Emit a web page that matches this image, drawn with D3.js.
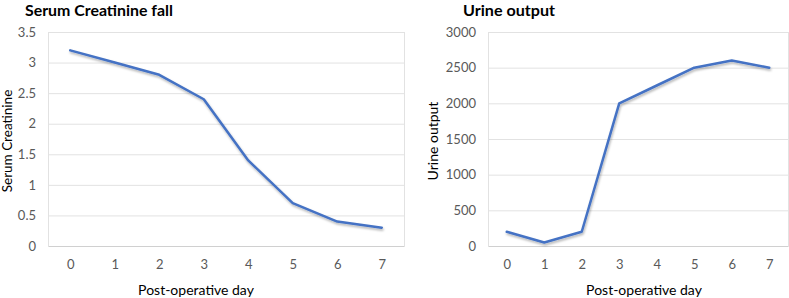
<!DOCTYPE html>
<html><head><meta charset="utf-8">
<script src="https://cdn.jsdelivr.net/npm/d3@7"></script>
<style>
html,body{margin:0;padding:0;background:#fff;}
svg{display:block;}
text{font-family:Lato,"Open Sans",sans-serif;}
</style></head>
<body>
<svg id="c" width="789" height="298"></svg>
<script>
const days = [0,1,2,3,4,5,6,7];
const creatinine = [3.2,3.0,2.8,2.4,1.4,0.7,0.4,0.3];
const urine = [200,50,200,2000,2250,2500,2600,2500];
const creatTicks = [0,0.5,1,1.5,2,2.5,3,3.5];
const urineTicks = [0,500,1000,1500,2000,2500,3000];
const titles = ["Serum Creatinine fall","Urine output"];
const yTitles = ["Serum Creatinine","Urine output"];
const xTitle = "Post-operative day";

const svg = d3.select("#c");
const defs = svg.append("defs");
const f = defs.append("filter").attr("id","sh").attr("x","-10%").attr("y","-10%").attr("width","130%").attr("height","140%");
f.append("feDropShadow").attr("dx",0.8).attr("dy",1.8).attr("stdDeviation",1).attr("flood-color","#000").attr("flood-opacity",0.3);

function chart(cfg){
  const g = svg.append("g");
  const x = d3.scalePoint().domain(days).range([cfg.left,cfg.right]).padding(0.5);
  const y = d3.scaleLinear().domain([0,cfg.max]).range([246,32]);
  g.selectAll("line.grid").data(cfg.ticks).enter().append("line")
    .attr("x1",cfg.left).attr("x2",cfg.right)
    .attr("y1",d=>y(d)+0.5).attr("y2",d=>y(d)+0.5)
    .attr("stroke",d=>d===0?"#d0d0d0":"#e2e2e2").attr("stroke-width",1);
  [cfg.left,cfg.right].forEach(px=>{
    g.append("line").attr("x1",px+0.5).attr("x2",px+0.5).attr("y1",y(cfg.max)).attr("y2",y(0)+1)
      .attr("stroke","#e2e2e2");
  });
  const yAxis = d3.axisLeft(y).tickValues(cfg.ticks).tickSize(0).tickPadding(0).tickFormat(d=>d);
  const ya = g.append("g").attr("transform",`translate(${cfg.labelX},0)`).call(yAxis);
  ya.select(".domain").remove();
  ya.selectAll("text").attr("fill","#595959").style("font-size","13px").style("font-family","Lato,sans-serif");
  const xAxis = d3.axisBottom(x).tickSize(0).tickPadding(0);
  const xa = g.append("g").attr("transform","translate(0,260)").call(xAxis);
  xa.select(".domain").remove();
  xa.selectAll("text").attr("fill","#595959").style("font-size","13px").style("font-family","Lato,sans-serif");
  const line = d3.line().x((d,i)=>x(days[i])).y(d=>y(d));
  g.append("path").datum(cfg.values).attr("d",line).attr("fill","none")
    .attr("stroke","#4472C4").attr("stroke-width",2.5).attr("stroke-linejoin","round").attr("stroke-linecap","round")
    .attr("filter","url(#sh)");
  g.append("text").attr("x",cfg.titleX).attr("y",16).text(cfg.title)
    .style("font-size",cfg.titleSize+"px").style("font-weight","bold").attr("fill","#000")
    .attr("textLength",cfg.titleW).attr("lengthAdjust","spacingAndGlyphs");
  g.append("text").attr("x",cfg.xTitleX).attr("y",295).attr("text-anchor","middle").text(xTitle)
    .style("font-size","14px").attr("fill","#000");
  g.append("text").attr("transform",`translate(${cfg.yTitleX},141) rotate(-90)`).attr("text-anchor","middle")
    .text(cfg.yTitle).style("font-size",cfg.yTitleSize+"px").attr("fill","#000");
}

chart({left:48,right:404,max:3.5,ticks:creatTicks,values:creatinine,labelX:36,
  title:titles[0],titleX:25,titleSize:16,titleW:148,xTitleX:196,yTitle:yTitles[0],yTitleX:12,yTitleSize:13.5});
chart({left:488,right:788,max:3000,ticks:urineTicks,values:urine,labelX:476,
  title:titles[1],titleX:463,titleSize:16,titleW:92,xTitleX:644,yTitle:yTitles[1],yTitleX:438,yTitleSize:14});
</script>
</body></html>
